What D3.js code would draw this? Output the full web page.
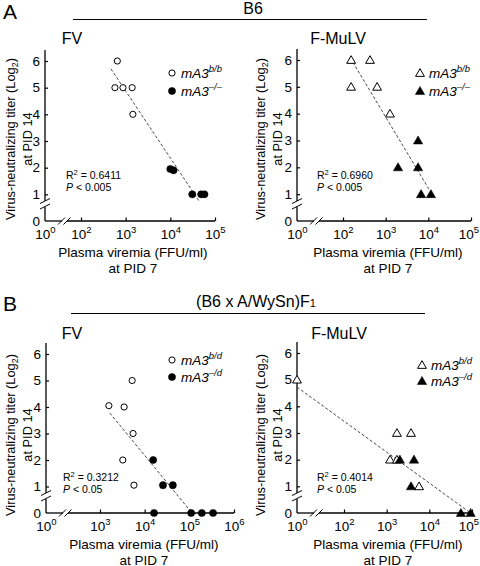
<!DOCTYPE html>
<html><head><meta charset="utf-8">
<script src="https://cdn.jsdelivr.net/npm/d3@7"></script>
<style>
body{margin:0;background:#fff}
svg{display:block}
text{font-family:Arial,"Liberation Sans",sans-serif;fill:#000}
</style>
</head><body>
<svg id="c" width="480" height="566"></svg>
<script>
// ---------- data ----------
const panelLetters = ["A", "B"];
const groupTitles = ["B6", "(B6 x A/WySn)F"];
const panelTitles = ["FV", "F-MuLV", "FV", "F-MuLV"];
const yTicks = [0, 1, 2, 3, 4, 5, 6];
const xTickExpAFv = [0, 2, 3, 4, 5];
const xTickExpAFm = [0, 2, 3, 4, 5];
const xTickExpBFv = [0, 3, 4, 5, 6];
const xTickExpBFm = [0, 2, 3, 4, 5];
const legendSupA = ["b/b", "\u2013/\u2013"];
const legendSupB = ["b/d", "\u2013/d"];
const r2Values = ["0.6411", "0.6960", "0.3212", "0.4014"];
const pValues = ["0.005", "0.005", "0.05", "0.05"];

// A, FV  (x: FFU/ml, y: log2 titer)
const aFvWtX = [650, 575, 870, 1400, 1450];
const aFvWtY = [6, 5, 5, 5, 4];
const aFvKoX = [10000, 11800, 31000, 49000, 58000];
const aFvKoY = [1.95, 1.9, 1, 1, 1];
const aFvFitX = [470, 45000];
const aFvFitY = [5.7, 0.72];

// A, F-MuLV
const aFmWtX = [155, 430, 155, 630, 1260];
const aFmWtY = [6, 6, 5, 5, 4];
const aFmKoX = [5750, 1950, 5750, 6760, 11500];
const aFmKoY = [3, 2, 2, 1, 1];
const aFmFitX = [170, 10200];
const aFmFitY = [5.92, 1.2];

// B, FV
const bFvWtX = [5250, 1580, 3470, 5500, 3240, 5750];
const bFvWtY = [5, 4.05, 4, 3, 2, 1.05];
const bFvKoX = [15500, 25700, 42700, 16200, 110000, 190000, 340000];
const bFvKoY = [2, 1.05, 1.05, 0, 0, 0, 0];
const bFvFitX = [1660, 115000];
const bFvFitY = [3.77, 0];

// B, F-MuLV
const bFmWtX = [1, 1740, 3720, 1200, 1740, 5750];
const bFmWtY = [5, 3, 3, 2, 2, 1];
const bFmKoX = [2040, 4370, 3720, 55000, 93000];
const bFmKoY = [2, 2, 1, 0, 0];
const bFmFitX = [1, 93000];
const bFmFitY = [4.72, 0];

// ---------- layout ----------
const svg = d3.select("#c");
const FONT = 'Arial, "Liberation Sans", sans-serif';

const panels = [
  {title: panelTitles[0], titleX: 72, titleY: 44, xd: [0, 2, 5], xr: [45, 81, 215], yr: [221, 61],
   ticks: xTickExpAFv, shape: "circle", sup: legendSupA, legX: 172, legY: [73, 91],
   r2: r2Values[0], p: pValues[0], r2X: 66, r2Y: 179, labX: 133, labY: 257, ylX: 15, ylY: 139,
   wtX: aFvWtX, wtY: aFvWtY, koX: aFvKoX, koY: aFvKoY, fitX: aFvFitX, fitY: aFvFitY},
  {title: panelTitles[1], titleX: 338, titleY: 44, xd: [0, 2, 5], xr: [297, 343, 471], yr: [221, 60],
   ticks: xTickExpAFm, shape: "triangle", sup: legendSupA, legX: 420, legY: [73, 91],
   r2: r2Values[1], p: pValues[1], r2X: 317, r2Y: 179, labX: 388, labY: 257, ylX: 265, ylY: 139,
   wtX: aFmWtX, wtY: aFmWtY, koX: aFmKoX, koY: aFmKoY, fitX: aFmFitX, fitY: aFmFitY},
  {title: panelTitles[2], titleX: 72, titleY: 339, xd: [0, 3, 6], xr: [46, 100, 234], yr: [513, 354],
   ticks: xTickExpBFv, shape: "circle", sup: legendSupB, legX: 172, legY: [360, 377],
   r2: r2Values[2], p: pValues[2], r2X: 63, r2Y: 481, labX: 144, labY: 549, ylX: 15, ylY: 435,
   wtX: bFvWtX, wtY: bFvWtY, koX: bFvKoX, koY: bFvKoY, fitX: bFvFitX, fitY: bFvFitY},
  {title: panelTitles[3], titleX: 339, titleY: 339, xd: [0, 2, 5], xr: [297, 344, 472], yr: [513, 353],
   ticks: xTickExpBFm, shape: "triangle", sup: legendSupB, legX: 422, legY: [365, 381],
   r2: r2Values[3], p: pValues[3], r2X: 317, r2Y: 481, labX: 388, labY: 549, ylX: 265, ylY: 435,
   wtX: bFmWtX, wtY: bFmWtY, koX: bFmKoX, koY: bFmKoY, fitX: bFmFitX, fitY: bFmFitY}
];

// panel letters and group headings
svg.append("text").attr("x", 3).attr("y", 19).attr("font-size", 21).text(panelLetters[0]);
svg.append("text").attr("x", 3).attr("y", 311).attr("font-size", 21).text(panelLetters[1]);
svg.append("text").attr("x", 253).attr("y", 14).attr("font-size", 16).attr("text-anchor", "middle").text(groupTitles[0]);
svg.append("line").attr("x1", 73).attr("x2", 427).attr("y1", 19.5).attr("y2", 19.5).attr("stroke", "#000").attr("stroke-width", 1.2);
const g2 = svg.append("text").attr("x", 256).attr("y", 307).attr("font-size", 16).attr("text-anchor", "middle");
g2.append("tspan").text(groupTitles[1]);
g2.append("tspan").attr("font-size", 11).text("1");
svg.append("line").attr("x1", 71).attr("x2", 425).attr("y1", 313.5).attr("y2", 313.5).attr("stroke", "#000").attr("stroke-width", 1.2);

function marker(g, shape, filled, cx, cy) {
  if (shape === "circle") {
    g.append("circle").attr("cx", cx).attr("cy", cy).attr("r", filled ? 3.6 : 3.1)
      .attr("fill", filled ? "#000" : "#fff").attr("stroke", "#000").attr("stroke-width", filled ? 0.5 : 1);
  } else {
    g.append("path").attr("d", d3.symbol(d3.symbolTriangle, filled ? 38 : 34)())
      .attr("transform", `translate(${cx},${cy + 0.8})`)
      .attr("fill", filled ? "#000" : "#fff").attr("stroke", "#000").attr("stroke-width", filled ? 0.5 : 1);
  }
}

panels.forEach(p => {
  const x = d3.scaleLinear().domain(p.xd).range(p.xr);
  const xv = v => x(Math.log10(v));
  const y = d3.scaleLinear().domain([0, 6]).range(p.yr);
  const g = svg.append("g");
  const x0 = p.xr[0], y0 = p.yr[0];
  const xEnd = p.xr[2];
  const yTop = y(6) - 11;

  // title
  g.append("text").attr("x", p.titleX).attr("y", p.titleY).attr("font-size", 16)
    .attr("text-anchor", "middle").text(p.title);

  // axes lines with breaks
  const ax = g.append("g").attr("stroke", "#000").attr("stroke-width", 1.3).attr("fill", "none");
  ax.append("line").attr("x1", x0).attr("x2", x0).attr("y1", y0).attr("y2", y0 - 14);
  ax.append("line").attr("x1", x0).attr("x2", x0).attr("y1", y0 - 20).attr("y2", yTop);
  ax.append("line").attr("x1", x0 - 5).attr("x2", x0 + 5).attr("y1", y0 - 12).attr("y2", y0 - 17).attr("stroke-width", 1);
  ax.append("line").attr("x1", x0 - 5).attr("x2", x0 + 5).attr("y1", y0 - 17.5).attr("y2", y0 - 22.5).attr("stroke-width", 1);
  ax.append("line").attr("x1", x0).attr("x2", x0 + 17).attr("y1", y0).attr("y2", y0);
  ax.append("line").attr("x1", x0 + 22).attr("x2", xEnd).attr("y1", y0).attr("y2", y0);
  ax.append("line").attr("x1", x0 + 13).attr("x2", x0 + 20).attr("y1", y0 + 3.5).attr("y2", y0 - 3.5).attr("stroke-width", 1);
  ax.append("line").attr("x1", x0 + 18.5).attr("x2", x0 + 25.5).attr("y1", y0 + 3.5).attr("y2", y0 - 3.5).attr("stroke-width", 1);

  // y ticks (inward)
  const yAxis = d3.axisLeft(y).tickValues(yTicks).tickSizeInner(-3).tickSizeOuter(0).tickPadding(5).tickFormat(d3.format("d"));
  const ya = g.append("g").attr("transform", `translate(${x0},0)`).call(yAxis);
  ya.select(".domain").remove();
  ya.selectAll(".tick line").attr("stroke-width", 1.2).filter(d => d === 0).remove();
  ya.selectAll(".tick text").attr("font-size", 13.5).attr("font-family", FONT);

  // x ticks (inward)
  const xAxis = d3.axisBottom(x).tickValues(p.ticks).tickSizeInner(-3.5).tickSizeOuter(0).tickPadding(7).tickFormat("");
  const xa = g.append("g").attr("transform", `translate(0,${y0})`).call(xAxis);
  xa.select(".domain").remove();
  xa.selectAll(".tick line").attr("stroke-width", 1.2).filter(d => d === 0).remove();
  xa.selectAll(".tick text").each(function(d) {
    const t = d3.select(this).attr("font-size", 13.5).attr("font-family", FONT).attr("dy", "0.8em");
    t.append("tspan").text("10");
    t.append("tspan").attr("font-size", 9.5).attr("dy", -6).text(d);
    // keep inside the page
    const tx = +d3.select(this.parentNode).attr("transform").match(/translate\(([-\d.]+)/)[1];
    const bb = this.getBBox();
    const over = tx + bb.x + bb.width - 479;
    if (over > 0) t.attr("x", -over);
  });

  // axis labels
  const xl = g.append("text").attr("font-size", 13.5).attr("text-anchor", "middle");
  xl.append("tspan").attr("x", p.labX).attr("y", p.labY).text("Plasma viremia (FFU/ml)");
  xl.append("tspan").attr("x", p.labX).attr("y", p.labY + 15.5).text("at PID 7");
  const yl = g.append("text").attr("font-size", 12.8).attr("text-anchor", "middle")
    .attr("transform", `translate(${p.ylX},${p.ylY}) rotate(-90)`);
  yl.append("tspan").attr("x", 0).attr("y", 0).text("Virus-neutralizing titer (Log");
  yl.append("tspan").attr("font-size", 9).attr("dy", 3).text("2");
  yl.append("tspan").attr("dy", -3).text(")");
  yl.append("tspan").attr("x", 0).attr("y", 17).text("at PID 14");

  // regression line
  g.append("line")
    .attr("x1", xv(p.fitX[0])).attr("y1", y(p.fitY[0]))
    .attr("x2", xv(p.fitX[1])).attr("y2", y(p.fitY[1]))
    .attr("stroke", "#333").attr("stroke-width", 0.9).attr("stroke-dasharray", "3,2");

  // points
  p.wtX.forEach((v, i) => marker(g, p.shape, false, xv(v), y(p.wtY[i])));
  p.koX.forEach((v, i) => marker(g, p.shape, true, xv(v), y(p.koY[i])));

  // legend
  [false, true].forEach((filled, i) => {
    marker(g, p.shape, filled, p.legX, p.legY[i]);
    const t = g.append("text").attr("x", p.legX + 9).attr("y", p.legY[i] + 5)
      .attr("font-size", 13.5).attr("font-style", "italic");
    t.append("tspan").text("mA3");
    t.append("tspan").attr("font-size", 9.5).attr("dy", -6).text(p.sup[i]);
  });

  // stats
  const s = g.append("text").attr("font-size", 10.5);
  s.append("tspan").attr("x", p.r2X).attr("y", p.r2Y).text("R");
  s.append("tspan").attr("font-size", 7.5).attr("dy", -4).text("2");
  s.append("tspan").attr("dy", 4).text(" = " + p.r2);
  const s2 = g.append("text").attr("font-size", 10.5).attr("x", p.r2X).attr("y", p.r2Y + 12);
  s2.append("tspan").attr("font-style", "italic").text("P");
  s2.append("tspan").text(" < " + p.p);
});
</script>
</body></html>
